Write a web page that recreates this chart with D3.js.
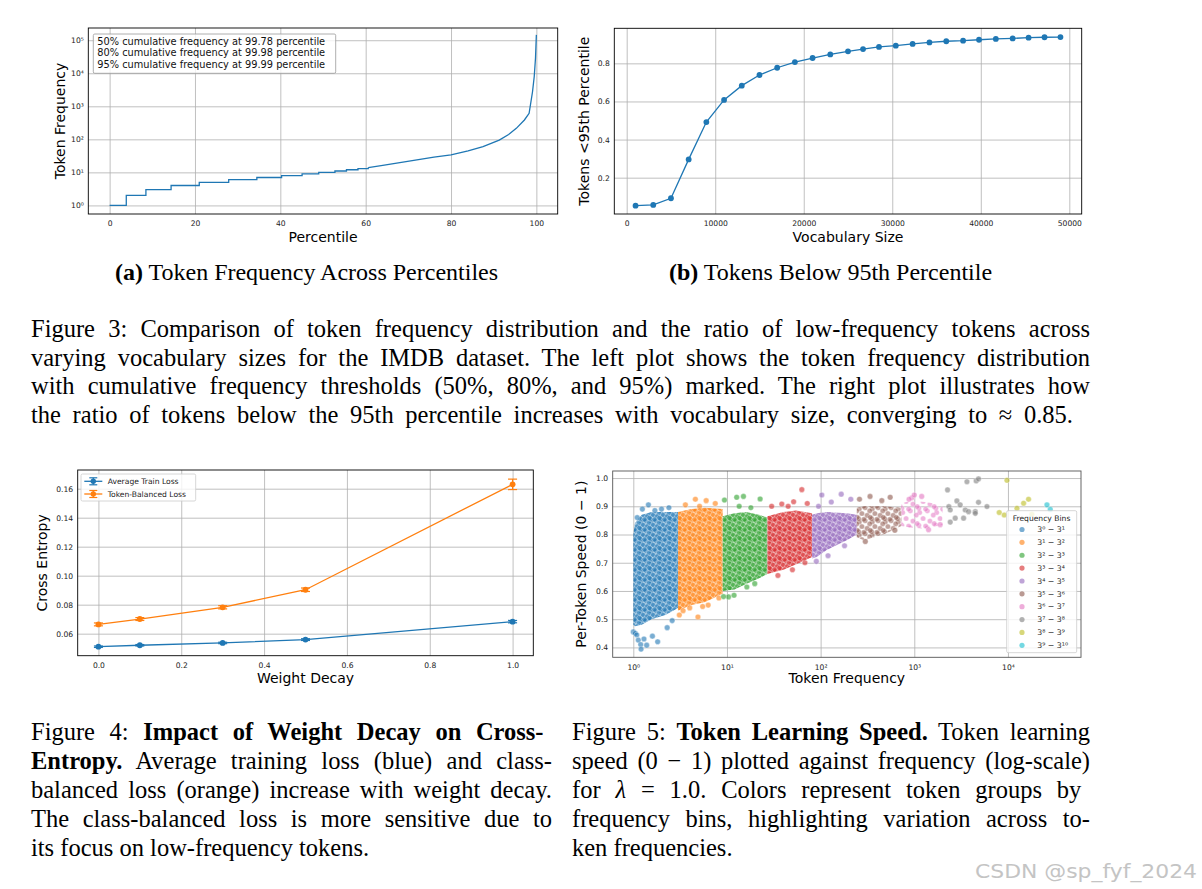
<!DOCTYPE html>
<html>
<head>
<meta charset="utf-8">
<script src="https://cdn.jsdelivr.net/npm/d3@7"></script>
<style>
body { margin: 0; background: #fff; }
svg text { font-family: "DejaVu Sans", sans-serif; }
.cap { font-family: "Liberation Serif", "Times New Roman", serif; font-size: 24.5px; fill: #000; }
</style>
</head>
<body>
<svg width="1202" height="889"></svg>
<script>
// ---- (a) token frequency across percentiles
var stepPct  = [0, 3.9, 8.5, 14.4, 21.0, 27.9, 34.5, 40.3, 45.1, 49.0, 52.8, 55.5, 58.2, 60.6];
var stepFreq = [1, 2, 3, 4, 5, 6, 7, 8, 9, 10, 11, 12, 13, 14];
var tailPct  = [60.6, 64, 68, 72, 76, 80, 84, 87.5, 91.3, 93.5, 95.3, 97.2, 98.3, 99.1, 99.5, 99.8, 100];
var tailFreq = [14, 16.3, 19.6, 24, 29, 34, 45, 60, 95, 140, 215, 385, 615, 2760, 8000, 29000, 145000];
var thresholdText = [
  "50% cumulative frequency at 99.78 percentile",
  "80% cumulative frequency at 99.98 percentile",
  "95% cumulative frequency at 99.99 percentile"
];

// ---- (b) tokens below 95th percentile
var vocabSize = [1000, 3000, 5000, 7000, 9000, 11000, 13000, 15000, 17000, 19000, 21000, 23000, 25000,
                 26700, 28500, 30400, 32300, 34200, 36100, 38000, 39800, 41700, 43600, 45400, 47200, 49000];
var below95 = [0.053, 0.057, 0.092, 0.296, 0.492, 0.608, 0.683, 0.739, 0.777, 0.807, 0.828, 0.847, 0.863,
               0.875, 0.886, 0.893, 0.902, 0.910, 0.916, 0.919, 0.924, 0.928, 0.931, 0.935, 0.937, 0.938];

// ---- figure 4: weight decay
var weightDecay  = [0.0, 0.1, 0.3, 0.5, 1.0];
var trainLoss    = [0.0510, 0.0520, 0.0536, 0.0559, 0.0683];
var trainErr     = [0.0005, 0.0005, 0.0005, 0.0006, 0.0008];
var balancedLoss = [0.0664, 0.0701, 0.0782, 0.0903, 0.1630];
var balancedErr  = [0.0010, 0.0010, 0.0011, 0.0012, 0.0036];
var lossNames    = ["Average Train Loss", "Token-Balanced Loss"];

// ---- figure 5: token learning speed, bins 3^k - 3^(k+1)
var binExp = [[0, 1], [1, 2], [2, 3], [3, 4], [4, 5], [5, 6], [6, 7], [7, 8], [8, 9], [9, 10]];
// dense part of each bin's cloud: frequency, upper and lower speed
var cloudFreq = [
  [1, 1.04, 1.23, 1.57, 2.2, 3],
  [3, 4.2, 5.8, 9],
  [9, 12, 16, 22, 27],
  [27, 40, 55, 81],
  [81, 91, 116, 190, 243],
  [243, 290, 470, 729],
  [729, 900, 1300, 2000]
];
var cloudTop = [
  [0.80, 0.84, 0.87, 0.88, 0.88, 0.88],
  [0.88, 0.89, 0.895, 0.89],
  [0.865, 0.875, 0.88, 0.87, 0.86],
  [0.865, 0.88, 0.885, 0.875],
  [0.87, 0.875, 0.88, 0.875, 0.87],
  [0.895, 0.90, 0.90, 0.895],
  [0.91, 0.92, 0.915, 0.905]
];
var cloudBottom = [
  [0.48, 0.475, 0.48, 0.50, 0.515, 0.54],
  [0.53, 0.55, 0.56, 0.59],
  [0.60, 0.605, 0.625, 0.645, 0.66],
  [0.66, 0.675, 0.695, 0.72],
  [0.715, 0.72, 0.745, 0.78, 0.80],
  [0.79, 0.78, 0.80, 0.83],
  [0.83, 0.825, 0.82, 0.835]
];
// single points outside the dense clouds: [bin, frequency, speed]
var loosePoints = [
  [0, 1.0, 0.455], [0, 1.05, 0.45], [0, 1.09, 0.444], [0, 1.13, 0.426], [0, 1.2, 0.41], [0, 1.21, 0.394],
  [0, 1.3, 0.43], [0, 1.39, 0.408], [0, 1.6, 0.44], [0, 1.82, 0.42], [0, 2.3, 0.47], [0, 2.6, 0.495],
  [0, 1.45, 0.905], [0, 1.25, 0.89], [0, 2.0, 0.89], [0, 2.4, 0.895], [0, 1.1, 0.86], [0, 1.7, 0.885],
  [1, 3.1, 0.515], [1, 3.4, 0.53], [1, 4.0, 0.54], [1, 4.9, 0.508], [1, 5.5, 0.545], [1, 6.3, 0.55],
  [1, 4.6, 0.925], [1, 6.0, 0.92], [1, 3.6, 0.905], [1, 7.5, 0.91], [1, 8.2, 0.575], [1, 5.1, 0.9],
  [2, 9.4, 0.922], [2, 12.7, 0.932], [2, 15, 0.935], [2, 22.6, 0.926], [2, 10.4, 0.579], [2, 11.9, 0.585],
  [2, 16.3, 0.614], [2, 19.8, 0.626], [2, 9.2, 0.58], [2, 13.5, 0.90], [2, 18, 0.895],
  [3, 63, 0.959], [3, 38.5, 0.908], [3, 51.5, 0.916], [3, 30, 0.90], [3, 72, 0.91], [3, 35, 0.655],
  [3, 50, 0.675], [3, 68, 0.70], [3, 45, 0.9],
  [4, 166, 0.943], [4, 103, 0.94], [4, 130, 0.915], [4, 210, 0.925], [4, 90, 0.705], [4, 120, 0.725],
  [4, 180, 0.76], [4, 95, 0.9],
  [5, 337, 0.935], [5, 553, 0.932], [5, 260, 0.925], [5, 450, 0.92], [5, 300, 0.775], [5, 620, 0.815],
  [6, 942, 0.93], [6, 1000, 0.94], [6, 880, 0.925], [6, 1420, 0.817], [6, 1890, 0.835], [6, 1200, 0.935],
  [7, 2265, 0.958], [7, 3650, 0.987], [7, 4580, 0.990], [7, 4850, 0.997], [7, 2340, 0.899], [7, 2420, 0.887],
  [7, 2850, 0.919], [7, 3090, 0.905], [7, 3500, 0.887], [7, 3800, 0.881], [7, 4480, 0.881], [7, 4850, 0.914],
  [7, 2420, 0.844], [7, 2735, 0.858], [7, 3360, 0.858], [7, 4480, 0.875], [7, 5970, 0.899],
  [8, 9760, 0.992], [8, 8070, 0.878], [8, 9120, 0.869], [8, 12480, 0.893], [8, 14700, 0.911],
  [8, 16600, 0.925], [8, 18000, 0.872],
  [9, 26100, 0.905], [9, 28300, 0.889]
];

var svg = d3.select("svg");
var blue = "#1f77b4", orange = "#ff7f0e";
var binColors = d3.schemeCategory10;
var sup = "⁰¹²³⁴⁵⁶⁷⁸⁹";
function supNum(n) { return String(n).split("").map(function(c) { return sup[+c]; }).join(""); }
function pow10(d) { return "10" + supNum(Math.round(Math.log10(d))); }

// grid + tick labels for one panel
function frame(x, y, o) {
  var g = svg.append("g");
  var x0 = x.range()[0], x1 = x.range()[1], yb = y.range()[0], yt = y.range()[1];
  g.append("g").attr("transform", "translate(0," + yb + ")")
    .call(d3.axisBottom(x).tickValues(o.xTicks).tickSize(-(yb - yt)).tickFormat(""));
  g.append("g").attr("transform", "translate(" + x0 + ",0)")
    .call(d3.axisLeft(y).tickValues(o.yTicks).tickSize(-(x1 - x0)).tickFormat(""));
  g.selectAll(".domain").remove();
  g.selectAll("line").attr("stroke", "#b0b0b0").attr("stroke-width", 0.8);

  var xa = g.append("g").attr("transform", "translate(0," + yb + ")")
    .call(d3.axisBottom(x).tickValues(o.xTicks).tickSize(0).tickPadding(7).tickFormat(o.xFmt));
  var ya = g.append("g").attr("transform", "translate(" + x0 + ",0)")
    .call(d3.axisLeft(y).tickValues(o.yTicks).tickSize(0).tickPadding(4.5).tickFormat(o.yFmt));
  [xa, ya].forEach(function(a) {
    a.select(".domain").remove();
    a.attr("font-family", "DejaVu Sans").attr("font-size", 7.6);
    a.selectAll("text").attr("fill", "#222");
  });

  svg.append("text").attr("x", (x0 + x1) / 2).attr("y", o.xLabelY).attr("dy", "0.35em")
    .attr("text-anchor", "middle").attr("font-size", 14).text(o.xLabel);
  svg.append("text").attr("transform", "translate(" + o.yLabelX + "," + (yb + yt) / 2 + ") rotate(-90)")
    .attr("dy", "0.35em").attr("text-anchor", "middle").attr("font-size", 14).text(o.yLabel);
  return g;
}
function spines(x, y, color) {
  svg.append("rect").attr("x", x.range()[0]).attr("y", y.range()[1])
    .attr("width", x.range()[1] - x.range()[0]).attr("height", y.range()[0] - y.range()[1])
    .attr("fill", "none").attr("stroke", color || "#000").attr("stroke-width", 0.9);
}

// ================= (a)
var xa = d3.scaleLinear().domain([-5, 105]).range([88.3, 557.7]);
var ya = d3.scaleLog().domain([Math.pow(10, -0.26), Math.pow(10, 5.37)]).range([214, 28]);
frame(xa, ya, {
  xTicks: [0, 20, 40, 60, 80, 100], yTicks: [1, 10, 100, 1e3, 1e4, 1e5],
  xFmt: d3.format("d"), yFmt: pow10,
  xLabel: "Percentile", xLabelY: 237.5, yLabel: "Token Frequency", yLabelX: 60
});
var stepPts = stepPct.map(function(p, i) { return [p, stepFreq[i]]; });
var tailPts = tailPct.map(function(p, i) { return [p, tailFreq[i]]; });
var lineA = d3.line().x(function(d) { return xa(d[0]); }).y(function(d) { return ya(d[1]); });
svg.append("path").attr("d", lineA.curve(d3.curveStepAfter)(stepPts))
  .attr("fill", "none").attr("stroke", blue).attr("stroke-width", 1.3);
svg.append("path").attr("d", lineA.curve(d3.curveLinear)(tailPts))
  .attr("fill", "none").attr("stroke", blue).attr("stroke-width", 1.3);
spines(xa, ya);
svg.append("rect").attr("x", 93.3).attr("y", 34).attr("width", 242.4).attr("height", 39.3).attr("rx", 1.5)
  .attr("fill", "#fff").attr("fill-opacity", 0.8).attr("stroke", "#999").attr("stroke-width", 0.8);
svg.selectAll(".thr").data(thresholdText).enter().append("text")
  .attr("x", 97.3).attr("y", function(d, i) { return 41.3 + i * 11.5; }).attr("dy", "0.35em")
  .attr("font-size", 9.8).attr("fill", "#111").text(function(d) { return d; });

// ================= (b)
var xb = d3.scaleLinear().domain([-1400, 51400]).range([614.3, 1081.7]);
var yb = d3.scaleLinear().domain([0.0094, 0.984]).range([214, 28.3]);
frame(xb, yb, {
  xTicks: [0, 10000, 20000, 30000, 40000, 50000], yTicks: [0.2, 0.4, 0.6, 0.8],
  xFmt: d3.format("d"), yFmt: d3.format(".1f"),
  xLabel: "Vocabulary Size", xLabelY: 237.5, yLabel: "Tokens <95th Percentile", yLabelX: 584
});
var ptsB = vocabSize.map(function(v, i) { return [v, below95[i]]; });
svg.append("path").attr("d", d3.line().x(function(d) { return xb(d[0]); }).y(function(d) { return yb(d[1]); })(ptsB))
  .attr("fill", "none").attr("stroke", blue).attr("stroke-width", 1.3);
svg.selectAll(".pb").data(ptsB).enter().append("circle")
  .attr("cx", function(d) { return xb(d[0]); }).attr("cy", function(d) { return yb(d[1]); })
  .attr("r", 2.9).attr("fill", blue);
spines(xb, yb);

// ================= figure 4
var x4 = d3.scaleLinear().domain([-0.05, 1.05]).range([77.7, 533.3]);
var y4 = d3.scaleLinear().domain([0.0448, 0.1729]).range([655.7, 470]);
frame(x4, y4, {
  xTicks: [0, 0.2, 0.4, 0.6, 0.8, 1.0], yTicks: [0.06, 0.08, 0.10, 0.12, 0.14, 0.16],
  xFmt: d3.format(".1f"), yFmt: d3.format(".2f"),
  xLabel: "Weight Decay", xLabelY: 678.3, yLabel: "Cross Entropy", yLabelX: 41.7
});
function errSeries(vals, errs, color) {
  var pts = weightDecay.map(function(w, i) { return [w, vals[i], errs[i]]; });
  svg.append("path").attr("d", d3.line().x(function(d) { return x4(d[0]); }).y(function(d) { return y4(d[1]); })(pts))
    .attr("fill", "none").attr("stroke", color).attr("stroke-width", 1.3);
  var e = svg.append("g").selectAll("g").data(pts).enter().append("g").attr("stroke", color).attr("stroke-width", 1.2);
  e.append("line").attr("x1", function(d) { return x4(d[0]); }).attr("x2", function(d) { return x4(d[0]); })
    .attr("y1", function(d) { return y4(d[1] - d[2]); }).attr("y2", function(d) { return y4(d[1] + d[2]); });
  [-1, 1].forEach(function(s) {
    e.append("line").attr("x1", function(d) { return x4(d[0]) - 4.5; }).attr("x2", function(d) { return x4(d[0]) + 4.5; })
      .attr("y1", function(d) { return y4(d[1] + s * d[2]); }).attr("y2", function(d) { return y4(d[1] + s * d[2]); });
  });
  svg.append("g").selectAll("circle").data(pts).enter().append("circle")
    .attr("cx", function(d) { return x4(d[0]); }).attr("cy", function(d) { return y4(d[1]); })
    .attr("r", 2.9).attr("fill", color);
}
errSeries(trainLoss, trainErr, blue);
errSeries(balancedLoss, balancedErr, orange);
spines(x4, y4);
svg.append("rect").attr("x", 81).attr("y", 474).attr("width", 114.7).attr("height", 27).attr("rx", 1.5)
  .attr("fill", "#fff").attr("fill-opacity", 0.8).attr("stroke", "#ccc").attr("stroke-width", 0.8);
var leg4 = svg.selectAll(".leg4").data(lossNames).enter().append("g")
  .attr("transform", function(d, i) { return "translate(0," + (481.3 + i * 12.7) + ")"; })
  .attr("stroke", function(d, i) { return i ? orange : blue; });
leg4.append("line").attr("x1", 84.3).attr("x2", 102.3).attr("stroke-width", 1.3);
leg4.append("line").attr("x1", 93.3).attr("x2", 93.3).attr("y1", -3.5).attr("y2", 3.5).attr("stroke-width", 1.2);
leg4.append("line").attr("x1", 89.3).attr("x2", 97.3).attr("y1", -3.5).attr("y2", -3.5).attr("stroke-width", 1.2);
leg4.append("line").attr("x1", 89.3).attr("x2", 97.3).attr("y1", 3.5).attr("y2", 3.5).attr("stroke-width", 1.2);
leg4.append("circle").attr("cx", 93.3).attr("r", 2.7).attr("stroke", "none")
  .attr("fill", function(d, i) { return i ? orange : blue; });
leg4.append("text").attr("x", 107.7).attr("dy", "0.35em").attr("font-size", 7.6).attr("stroke", "none")
  .attr("fill", "#222").text(function(d) { return d; });

// ================= figure 5
var x5 = d3.scaleLog().domain([Math.pow(10, -0.22), Math.pow(10, 4.78)]).range([612.7, 1081]);
var y5 = d3.scaleLinear().domain([0.365, 1.025]).range([657.3, 471]);
frame(x5, y5, {
  xTicks: [1, 10, 100, 1e3, 1e4], yTicks: [0.4, 0.5, 0.6, 0.7, 0.8, 0.9, 1.0],
  xFmt: pow10, yFmt: d3.format(".1f"),
  xLabel: "Token Frequency", xLabelY: 678.3, yLabel: "Per-Token Speed (0 \u2212 1)", yLabelX: 581
});
// dot texture used to paint the dense clouds (fixed, hand-placed offsets inside one tile)
var tileDots = [[1, 1.5], [5.5, 0.5], [9, 3], [3, 5], [7, 6.5], [0.5, 9], [4.5, 9.5], [9.5, 8]];
var defs = svg.append("defs");
binColors.forEach(function(c, i) {
  var s = i < 5 ? 10 : (i === 5 ? 13 : 17);
  var pat = defs.append("pattern").attr("id", "cloud" + i)
    .attr("patternUnits", "userSpaceOnUse").attr("width", s).attr("height", s);
  if (i < 5) pat.append("rect").attr("width", s).attr("height", s).attr("fill", c).attr("fill-opacity", 0.55);
  var k = s / 10;
  tileDots.forEach(function(p) {
    [-s, 0, s].forEach(function(dx) {
      [-s, 0, s].forEach(function(dy) {
        pat.append("circle").attr("cx", p[0] * k + dx).attr("cy", p[1] * k + dy).attr("r", 2.6)
          .attr("fill", c).attr("fill-opacity", 0.55)
          .attr("stroke", "#fff").attr("stroke-opacity", 0.5).attr("stroke-width", 0.6);
      });
    });
  });
});
var cloudArea = d3.area()
  .x(function(d) { return x5(d[0]); })
  .y0(function(d) { return y5(d[2]); })
  .y1(function(d) { return y5(d[1]); });
function loose(sel) {
  sel.attr("cx", function(d) { return x5(d[1]); }).attr("cy", function(d) { return y5(d[2]); })
    .attr("r", 2.8).attr("fill", function(d) { return binColors[d[0]]; }).attr("fill-opacity", 0.6)
    .attr("stroke", "#fff").attr("stroke-opacity", 0.6).attr("stroke-width", 0.6);
}
cloudFreq.forEach(function(fs, i) {
  var pts = fs.map(function(f, j) { return [f, cloudTop[i][j], cloudBottom[i][j]]; });
  svg.append("path").attr("d", cloudArea(pts)).attr("fill", "url(#cloud" + i + ")");
  svg.append("g").selectAll("circle").data(loosePoints.filter(function(p) { return p[0] === i; }))
    .enter().append("circle").call(loose);
});
svg.append("g").selectAll("circle").data(loosePoints.filter(function(p) { return p[0] > 6; }))
  .enter().append("circle").call(loose);
spines(x5, y5, "#555");
svg.append("rect").attr("x", 1006.7).attr("y", 510.7).attr("width", 70).attr("height", 142).attr("rx", 1.5)
  .attr("fill", "#fff").attr("fill-opacity", 0.8).attr("stroke", "#ccc").attr("stroke-width", 0.8);
svg.append("text").attr("x", 1041.5).attr("y", 518).attr("dy", "0.35em").attr("text-anchor", "middle")
  .attr("font-size", 7.6).attr("fill", "#222").text("Frequency Bins");
var leg5 = svg.selectAll(".leg5").data(binExp).enter().append("g")
  .attr("transform", function(d, i) { return "translate(0," + (529.5 + i * 12.87) + ")"; });
leg5.append("circle").attr("cx", 1022).attr("r", 2.6)
  .attr("fill", function(d, i) { return binColors[i]; }).attr("fill-opacity", 0.6);
leg5.append("text").attr("x", 1037.3).attr("dy", "0.35em").attr("font-size", 7.8).attr("fill", "#222")
  .text(function(d) { return "3" + supNum(d[0]) + " \u2212 3" + supNum(d[1]); });

// ================= captions
function capLine(x, y, width, parts, justify, anchor) {
  var t = svg.append("text").attr("class", "cap").attr("x", x).attr("y", y);
  if (anchor) t.attr("text-anchor", anchor);
  parts.forEach(function(p) {
    t.append("tspan").text(p[0])
      .attr("font-weight", p[1] === "b" ? "bold" : null)
      .attr("font-style", p[1] === "i" ? "italic" : null);
  });
  if (justify) {
    var w = t.node().getComputedTextLength();
    var n = (t.text().match(/ /g) || []).length;
    if (n) t.attr("word-spacing", (width - w) / n);
  }
  return t;
}
capLine(306.5, 280, 0, [["(a)", "b"], [" Token Frequency Across Percentiles"]], false, "middle").style("font-size", "24px");
capLine(830.5, 280, 0, [["(b)", "b"], [" Tokens Below 95th Percentile"]], false, "middle").style("font-size", "24px");

var fig3 = [
  "Figure 3: Comparison of token frequency distribution and the ratio of low-frequency tokens across",
  "varying vocabulary sizes for the IMDB dataset. The left plot shows the token frequency distribution",
  "with cumulative frequency thresholds (50%, 80%, and 95%) marked. The right plot illustrates how",
  "the ratio of tokens below the 95th percentile increases with vocabulary size, converging to \u2248 0.85."
];
fig3.forEach(function(s, i) { capLine(31, 337 + i * 28.6, i < 3 ? 1059 : 1042, [[s]], true); });

var fig4 = [
  [["Figure 4:  "], ["Impact of Weight Decay on Cross-", "b"]],
  [["Entropy.", "b"], [" Average training loss (blue) and class-"]],
  [["balanced loss (orange) increase with weight decay."]],
  [["The class-balanced loss is more sensitive due to"]],
  [["its focus on low-frequency tokens."]]
];
fig4.forEach(function(p, i) { capLine(31, 740 + i * 28.9, 521, p, i < 4); });

var fig5 = [
  [["Figure 5: "], ["Token Learning Speed.", "b"], [" Token learning"]],
  [["speed (0 \u2212 1) plotted against frequency (log-scale)"]],
  [["for "], ["\u03bb", "i"], [" = 1.0.  Colors represent token groups by"]],
  [["frequency bins, highlighting variation across to-"]],
  [["ken frequencies."]]
];
fig5.forEach(function(p, i) { capLine(572, 740 + i * 28.9, 518, p, i < 4); });

svg.append("text").attr("x", 975).attr("y", 878).attr("font-family", "Liberation Sans")
  .attr("font-size", 20).attr("textLength", 222).attr("lengthAdjust", "spacingAndGlyphs")
  .attr("fill", "#c4c4c4").text("CSDN @sp_fyf_2024");
</script>
</body>
</html>
